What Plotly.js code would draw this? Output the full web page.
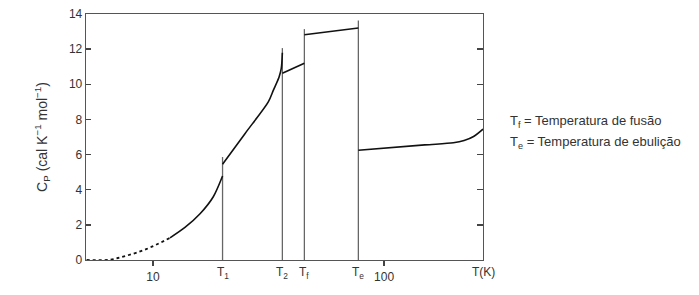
<!DOCTYPE html>
<html>
<head>
<meta charset="utf-8">
<script src="https://cdn.plot.ly/plotly-3.0.1.min.js"></script>
<style>html,body{margin:0;padding:0;background:#fff;}#chart{width:699px;height:295px;}</style>
</head>
<body>
<div id="chart"></div>
<script>
// Transition temperatures (K) and heights of the marker lines
var transitionNames = ["T<sub>1</sub>", "T<sub>2</sub>", "T<sub>f</sub>", "T<sub>e</sub>"];
var transitionT = [20.0, 36.3, 45.2, 77.4];
var transitionTop = [5.86, 12.06, 13.14, 13.63];

// Dotted extrapolated low-temperature part
var dotT = [5.16, 6.5, 7.7, 9.4, 11.85];
var dotCp = [0.0, 0.02, 0.25, 0.63, 1.26];

// Solid segments
var seg1T = [11.85, 13.75, 15.98, 18.24, 20.0];
var seg1Cp = [1.26, 1.85, 2.63, 3.6, 4.78];

var seg2T = [20.0, 25.0, 31.55, 33.2, 35.1, 35.9, 36.3];
var seg2Cp = [5.45, 7.19, 9.0, 9.67, 10.4, 10.9, 11.8];

var seg3T = [36.3, 45.2];
var seg3Cp = [10.63, 11.2];

var seg4T = [45.2, 77.4];
var seg4Cp = [12.82, 13.2];

var seg5T = [77.4, 150, 199.5, 222, 244, 268];
var seg5Cp = [6.25, 6.55, 6.67, 6.8, 7.03, 7.45];

var xTickVals = [10, 100];
var xTickText = ["10", "100"];
var yTickVals = [0, 2, 4, 6, 8, 10, 12, 14];

var legendLines = ["T<sub>f</sub> = Temperatura de fusão", "T<sub>e</sub> = Temperatura de ebulição"];

var curveStyle = {color: "#111", width: 1.6};
var traces = [];
for (var i = 0; i < transitionT.length; i++) {
  traces.push({x: [transitionT[i], transitionT[i]], y: [0, transitionTop[i]], mode: "lines",
    line: {color: "#666", width: 1.3}, hoverinfo: "skip", showlegend: false});
}
traces.push({x: dotT, y: dotCp, mode: "lines", line: {color: "#111", width: 1.8, dash: "3px,3px", shape: "spline"}, showlegend: false});
[[seg1T, seg1Cp], [seg2T, seg2Cp], [seg3T, seg3Cp], [seg4T, seg4Cp], [seg5T, seg5Cp]].forEach(function (s) {
  traces.push({x: s[0], y: s[1], mode: "lines", line: Object.assign({shape: "spline", smoothing: 0.8}, curveStyle), showlegend: false});
});
// right-side mirror ticks
traces.push({x: [10], y: [null], yaxis: "y2", mode: "lines", showlegend: false, hoverinfo: "skip"});

var xmin = 5.13, xmax = 268;
var annotations = [];
for (var j = 0; j < transitionT.length; j++) {
  annotations.push({x: Math.log10(transitionT[j]), y: 0, yref: "paper", yanchor: "top", yshift: -3,
    text: transitionNames[j], showarrow: false, font: {size: 12, color: "#333"}});
}
annotations.push({x: Math.log10(xmax), y: 0, yref: "paper", yanchor: "top", yshift: -3,
  text: "T(K)", showarrow: false, font: {size: 12, color: "#333"}});
for (var k = 0; k < legendLines.length; k++) {
  annotations.push({x: 508, y: [122, 142][k], xref: "paper", yref: "paper", showarrow: false,
    xanchor: "left", yanchor: "middle", text: legendLines[k], font: {size: 13, color: "#333"}});
}
// convert pixel legend positions into paper coordinates
var L = 86, R = 216, T = 14, B = 35, W = 699, H = 295;
annotations.forEach(function (a) {
  if (a.xref === "paper") {
    a.x = (a.x - L) / (W - L - R);
    a.y = 1 - (a.y - T) / (H - T - B);
  }
});

var layout = {
  width: W, height: H,
  margin: {l: L, r: R, t: T, b: B, pad: 0},
  paper_bgcolor: "#fff", plot_bgcolor: "#fff",
  font: {family: "Liberation Sans, Arial, sans-serif", size: 12, color: "#333"},
  showlegend: false,
  xaxis: {type: "log", range: [Math.log10(xmin), Math.log10(xmax)], tickvals: xTickVals, ticktext: xTickText,
    ticks: "outside", ticklen: 5, tickwidth: 1.5, tickcolor: "#444", showgrid: false, zeroline: false,
    showline: true, linecolor: "#555", linewidth: 1.3, mirror: true, tickfont: {size: 12, color: "#333"}},
  yaxis: {range: [0, 14], tickvals: yTickVals, ticks: "inside", ticklen: 5, tickwidth: 1.5, tickcolor: "#444",
    showgrid: false, zeroline: false, showline: true, linecolor: "#555", linewidth: 1.3,
    tickfont: {size: 12, color: "#333"},
    title: {text: "C<sub>P</sub> (cal K<sup>−1</sup> mol<sup>−1</sup>)", font: {size: 14, color: "#333"}, standoff: 18}},
  yaxis2: {range: [0, 14], overlaying: "y", side: "right", tickvals: [2, 4, 6, 8, 10, 12], ticks: "inside",
    ticklen: 6, tickwidth: 1.5, tickcolor: "#444", showticklabels: false, showgrid: false, zeroline: false,
    showline: true, linecolor: "#555", linewidth: 1.3},
  annotations: annotations
};

Plotly.newPlot("chart", traces, layout, {displayModeBar: false, staticPlot: true});
</script>
</body>
</html>
